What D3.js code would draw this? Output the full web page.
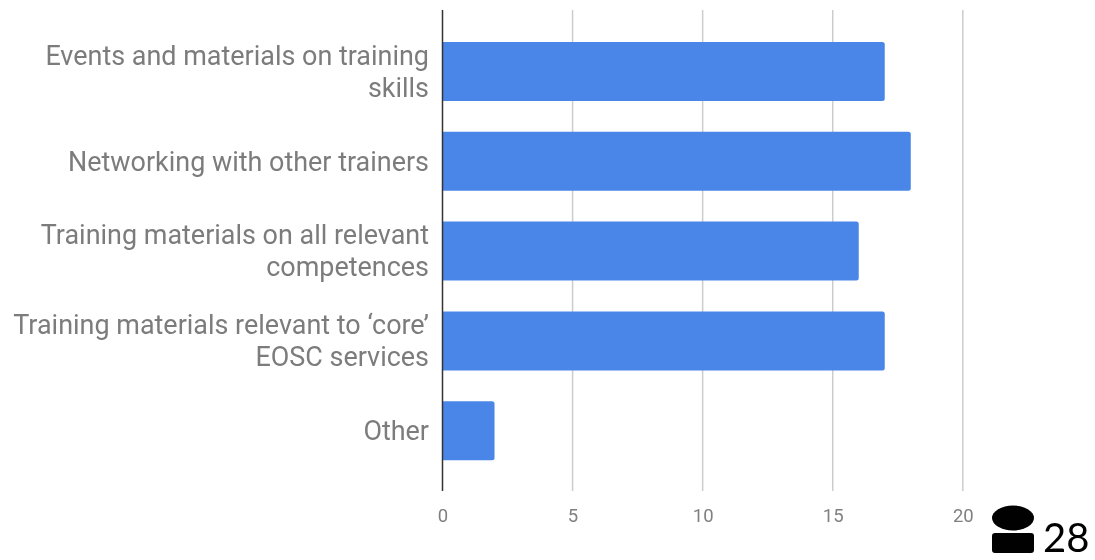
<!DOCTYPE html>
<html><head><meta charset="utf-8">
<script src="https://cdnjs.cloudflare.com/ajax/libs/d3/7.8.5/d3.min.js"></script>
<style>html,body{margin:0;padding:0;background:#fff}svg{display:block}#c{will-change:opacity;opacity:.999}</style>
</head><body><svg id="c" width="1095" height="560"></svg>
<script>
const categories = ["Events and materials on training skills","Networking with other trainers","Training materials on all relevant competences","Training materials relevant to ‘core’ EOSC services","Other"];
const categoryLines = [["Events and materials on training","skills"],["Networking with other trainers"],["Training materials on all relevant","competences"],["Training materials relevant to ‘core’","EOSC services"],["Other"]];
const values = [17,18,16,17,2];
const xTicks = [0,5,10,15,20];
const slideNumber = "28";

const svg = d3.select("#c");
const x = d3.scaleLinear().domain([0,20]).range([442.5,962.8]);
const y = d3.scaleBand().domain(categories).range([10.6,491.6]).paddingInner(0.343).paddingOuter(0.35);
const font = "Roboto, sans-serif";

svg.append("g").selectAll("line").data(xTicks.slice(1)).join("line")
  .attr("x1",d=>x(d)).attr("x2",d=>x(d)).attr("y1",10).attr("y2",491)
  .attr("stroke","#cccccc").attr("stroke-width",1.5);

svg.append("g").selectAll("path").data(values).join("path")
  .attr("fill","#4a86e8")
  .attr("d",(d,i)=>{
    const x0=x(0), x1=x(d), t=y(categories[i]), b=t+y.bandwidth(), r=2.5;
    return `M${x0},${t}H${x1-r}Q${x1},${t} ${x1},${t+r}V${b-r}Q${x1},${b} ${x1-r},${b}H${x0}Z`;
  });

svg.append("line").attr("x1",x(0)).attr("x2",x(0)).attr("y1",10).attr("y2",491)
  .attr("stroke","#333333").attr("stroke-width",1.5);

svg.append("g").selectAll("text").data(xTicks).join("text")
  .attr("x",d=>x(d)+0.5).attr("y",522).attr("text-anchor","middle")
  .attr("font-family",font).attr("font-size",18.5).attr("fill","#808080").text(d=>d);

const lh = 32;
const lab = svg.append("g").selectAll("text").data(categoryLines).join("text")
  .attr("text-anchor","end").attr("font-family",font).attr("font-size",26.95).attr("fill","#7c7c7c");
lab.each(function(lines,i){
  const cy = y(categories[i])+y.bandwidth()/2;
  d3.select(this).selectAll("tspan").data(lines).join("tspan")
    .attr("x",429)
    .attr("y",(l,j)=>cy+9.2-(lines.length-1)*lh/2+j*lh)
    .text(l=>l);
});

const icon = svg.append("g").attr("fill","#000");
icon.append("ellipse").attr("cx",1013).attr("cy",518).attr("rx",21).attr("ry",12.5);
icon.append("rect").attr("x",992).attr("y",533).attr("width",42).attr("height",20).attr("rx",3);
svg.append("text").attr("x",1043).attr("y",551.5).attr("font-family","Lato, sans-serif")
  .attr("font-size",40).attr("fill","#000").text(slideNumber);
</script></body></html>
